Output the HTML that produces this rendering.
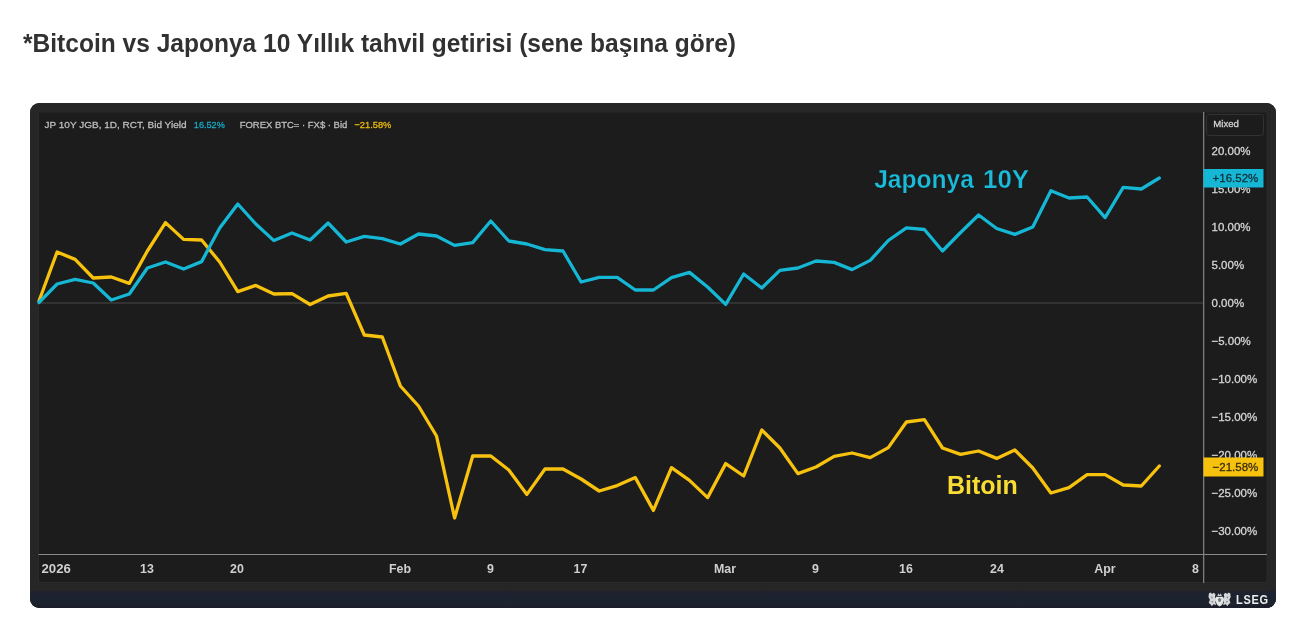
<!DOCTYPE html>
<html lang="tr">
<head>
<meta charset="utf-8">
<title>Bitcoin vs Japonya 10 Yıllık tahvil getirisi</title>
<style>
html,body{margin:0;padding:0;background:#fff;}
body{width:1291px;height:619px;position:relative;overflow:hidden;font-family:"Liberation Sans",sans-serif;}
h2.title{position:absolute;left:23px;top:30px;margin:0;font-size:24.55px;line-height:28px;font-weight:bold;color:#313131;white-space:nowrap;letter-spacing:0;transform:scaleY(1.055);transform-origin:0 22.2px;}
.chart{position:absolute;left:30px;top:103px;width:1246px;height:505px;border-radius:9.5px;overflow:hidden;background:#262626;}
.chart svg{display:block;}
svg text{font-family:"Liberation Sans",sans-serif;}
.ax{font-size:11.5px;fill:#d4d4d4;stroke:#d4d4d4;stroke-width:0.3px;}
.b{font-weight:bold;stroke:none;fill:#d0d0d0;font-size:12.4px;}
.hd{font-size:9.6px;fill:#bdbdbd;stroke:#bdbdbd;stroke-width:0.3px;}
</style>
</head>
<body>
<h2 class="title">*Bitcoin vs Japonya 10 Yıllık tahvil getirisi (sene başına göre)</h2>
<div class="chart">
<svg width="1246" height="505" viewBox="0 0 1246 505">
  <defs><linearGradient id="band" x1="0" y1="0" x2="0" y2="1"><stop offset="0" stop-color="#262626"/><stop offset="0.2" stop-color="#262525"/><stop offset="0.37" stop-color="#1f2330"/><stop offset="1" stop-color="#1b1f2c"/></linearGradient><filter id="soft" x="-2%" y="-2%" width="104%" height="104%"><feGaussianBlur stdDeviation="0.55"/></filter></defs>
  <rect x="0" y="0" width="1246" height="505" fill="#262626"/>
  <g filter="url(#soft)">
  <rect x="0" y="482" width="1246" height="23" fill="url(#band)"/>
  <rect x="8" y="8.5" width="1229.5" height="471.5" fill="#2b2b2b"/>
  <rect x="9" y="9.5" width="1227.5" height="469.5" fill="#1a1a1a"/>
  <!-- zero line -->
  <rect x="8.5" y="199.4" width="1165" height="1.2" fill="#444"/>
  <!-- axes -->
  <rect x="8.5" y="451" width="1228.5" height="1" fill="#8a8a8a"/>
  <rect x="1173" y="9" width="1.3" height="471" fill="#7c7c7c"/>
  <!-- header -->
  <text x="14.5" y="25" class="hd" textLength="142" lengthAdjust="spacingAndGlyphs">JP 10Y JGB, 1D, RCT, Bid Yield</text>
  <text x="163.8" y="25" class="hd" style="fill:#19a9c4;stroke:#19a9c4" textLength="31" lengthAdjust="spacingAndGlyphs">16.52%</text>
  <text x="209.7" y="25" class="hd" textLength="107.6" lengthAdjust="spacingAndGlyphs">FOREX BTC= · FX$ · Bid</text>
  <text x="324.4" y="25" class="hd" style="fill:#e8b810;stroke:#e8b810" textLength="37" lengthAdjust="spacingAndGlyphs">−21.58%</text>
  <!-- mixed box -->
  <rect x="1176.5" y="11.5" width="57" height="21" rx="3" ry="3" fill="#1a1a1a" stroke="#333" stroke-width="1"/>
  <text x="1183.3" y="24.3" class="hd" style="fill:#d4d4d4;stroke:#d4d4d4">Mixed</text>
  <!-- y labels -->
  <text x="1181.5" y="52.0" class="ax">20.00%</text>
<text x="1181.5" y="90.0" class="ax">15.00%</text>
<text x="1181.5" y="128.0" class="ax">10.00%</text>
<text x="1181.5" y="166.0" class="ax">5.00%</text>
<text x="1181.5" y="204.0" class="ax">0.00%</text>
<text x="1181.5" y="242.0" class="ax">−5.00%</text>
<text x="1181.5" y="280.0" class="ax">−10.00%</text>
<text x="1181.5" y="318.0" class="ax">−15.00%</text>
<text x="1181.5" y="356.0" class="ax">−20.00%</text>
<text x="1181.5" y="394.0" class="ax">−25.00%</text>
<text x="1181.5" y="432.0" class="ax">−30.00%</text>
  <!-- x labels -->
  <text x="11.5" y="469.6" class="ax b" text-anchor="start" textLength="29.4" lengthAdjust="spacingAndGlyphs">2026</text>
<text x="117" y="469.6" class="ax b" text-anchor="middle">13</text>
<text x="207" y="469.6" class="ax b" text-anchor="middle">20</text>
<text x="370" y="469.6" class="ax b" text-anchor="middle">Feb</text>
<text x="460.5" y="469.6" class="ax b" text-anchor="middle">9</text>
<text x="550.5" y="469.6" class="ax b" text-anchor="middle">17</text>
<text x="695" y="469.6" class="ax b" text-anchor="middle">Mar</text>
<text x="785.5" y="469.6" class="ax b" text-anchor="middle">9</text>
<text x="876" y="469.6" class="ax b" text-anchor="middle">16</text>
<text x="967" y="469.6" class="ax b" text-anchor="middle">24</text>
<text x="1075" y="469.6" class="ax b" text-anchor="middle">Apr</text>
<text x="1165.5" y="469.6" class="ax b" text-anchor="middle">8</text>
  <!-- series -->
  <polyline points="9.0,198.0 27.1,149.0 45.1,156.4 63.2,175.0 81.3,174.0 99.3,180.4 117.4,148.0 135.5,119.6 153.6,136.4 171.6,137.0 189.7,159.0 207.8,188.6 225.8,182.4 243.9,191.0 262.0,190.6 280.1,201.5 298.1,193.0 316.2,190.4 334.3,232.0 352.3,234.0 370.4,283.0 388.5,303.0 406.5,333.0 424.6,415.0 442.7,353.0 460.8,353.0 478.8,367.0 496.9,391.4 515.0,366.0 533.0,366.0 551.1,376.0 569.2,388.0 587.2,382.6 605.3,374.6 623.4,407.4 641.5,364.6 659.5,377.4 677.6,394.6 695.7,360.6 713.7,373.0 731.8,327.0 749.9,345.0 767.9,370.6 786.0,364.0 804.1,353.4 822.1,350.0 840.2,354.6 858.3,344.6 876.4,319.0 894.4,316.6 912.5,345.0 930.6,351.4 948.6,348.0 966.7,355.4 984.8,347.0 1002.8,365.0 1020.9,390.0 1039.0,384.6 1057.1,371.6 1075.1,371.6 1093.2,382.0 1111.3,383.0 1129.3,363.0" fill="none" stroke="#f7c210" stroke-width="3.3" stroke-linejoin="round" stroke-linecap="round"/>
  <polyline points="9.0,199.5 27.1,181.0 45.1,176.4 63.2,180.0 81.3,197.0 99.3,191.0 117.4,165.0 135.5,159.0 153.6,166.0 171.6,158.6 189.7,125.0 207.8,101.0 225.8,121.0 243.9,137.6 262.0,130.0 280.1,137.0 298.1,120.0 316.2,139.0 334.3,133.4 352.3,135.6 370.4,141.0 388.5,131.0 406.5,133.0 424.6,142.4 442.7,139.6 460.8,118.0 478.8,138.0 496.9,141.0 515.0,146.6 533.0,148.0 551.1,179.0 569.2,174.4 587.2,174.4 605.3,187.0 623.4,187.0 641.5,174.6 659.5,169.4 677.6,184.0 695.7,201.4 713.7,171.0 731.8,185.0 749.9,167.4 767.9,165.0 786.0,158.0 804.1,159.4 822.1,166.6 840.2,157.4 858.3,137.5 876.4,124.8 894.4,126.5 912.5,148.0 930.6,129.5 948.6,112.0 966.7,125.5 984.8,131.4 1002.8,124.0 1020.9,87.7 1039.0,95.0 1057.1,94.0 1075.1,114.6 1093.2,84.4 1111.3,86.0 1129.3,75.0" fill="none" stroke="#19b7d5" stroke-width="3.3" stroke-linejoin="round" stroke-linecap="round"/>
  <!-- price tags -->
  <rect x="1173.5" y="66" width="60" height="18.5" fill="#19b7d5"/>
  <text x="1182.6" y="79.2" class="ax" style="fill:#0c2f37;stroke:#0c2f37">+16.52%</text>
  <rect x="1173.5" y="354.5" width="60" height="19" fill="#f7c210"/>
  <text x="1182.6" y="368" class="ax" style="fill:#3a2d08;stroke:#3a2d08">−21.58%</text>
  <!-- annotations -->
  <g style="font-size:25.3px;font-weight:bold;fill:#1bbbd9;stroke:#1a1a1a;stroke-width:0.25px"><text x="844.2" y="85" textLength="99.7" lengthAdjust="spacingAndGlyphs">Japonya</text><text x="953" y="85" textLength="46" lengthAdjust="spacingAndGlyphs">10Y</text></g>
  <text x="917" y="391" style="font-size:25px;font-weight:bold;fill:#f8dc35">Bitoin</text>
  <!-- LSEG -->
  <g transform="translate(1178.3,489.3)" fill="#f0f0f0">
    <path d="M0.6 1.2 L2.4 0.2 L3.8 1.8 L5.4 0.4 L7.2 2 L6.6 4.6 L8.2 7 L7 10 L7.8 12.6 L5 12 L3.6 14 L2 11.6 L0.4 10.8 L1.6 7.4 L0.2 4.6 Z" opacity="0.88"/>
    <path d="M22 1.2 L20.2 0.2 L18.8 1.8 L17.2 0.4 L15.4 2 L16 4.6 L14.4 7 L15.6 10 L14.8 12.6 L17.6 12 L19 14 L20.6 11.6 L22.2 10.8 L21 7.4 L22.4 4.6 Z" opacity="0.88"/>
    <path d="M7.6 4.4 L15 4.4 L15 9 Q15 12.4 11.3 14.2 Q7.6 12.4 7.6 9 Z" opacity="0.95"/>
    <path d="M9 3.8 L10 1 L11.3 2.6 L12.6 1 L13.6 3.8 Z" opacity="0.8"/>
    <path d="M9.6 7 L11.3 5.4 L13 7 L12.4 9.4 L10.2 9.4 Z" fill="#1c2030" opacity="0.55"/>
    <path d="M2.4 4 L4.4 4.6 L3.6 6.4 Z M20.2 4 L18.2 4.6 L19 6.4 Z M3 8.6 L5 9 L4 10.6 Z M19.6 8.6 L17.6 9 L18.6 10.6 Z" fill="#1c2030" opacity="0.5"/>
  </g>
  <text transform="translate(1206,501.1) scale(1,1.2)" x="0" y="0" style="font-size:11px;font-weight:bold;fill:#eeeeee;letter-spacing:0.75px">LSEG</text>
  </g>
</svg>
</div>
</body>
</html>
